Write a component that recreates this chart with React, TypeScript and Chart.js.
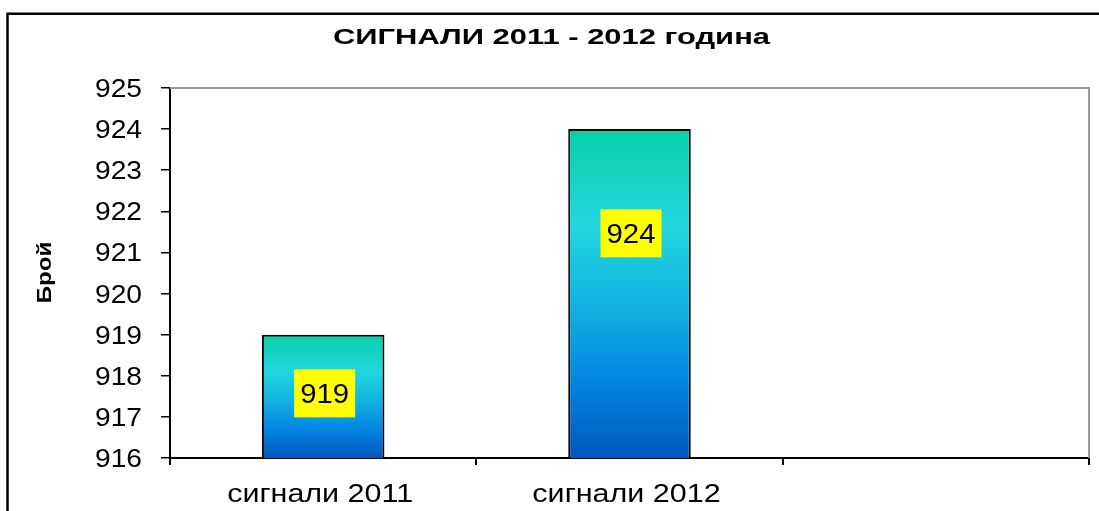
import React, { useEffect, useRef } from 'react';
import { Chart, registerables } from 'chart.js';

Chart.register(...registerables);

// ---- data ----
const categories: string[] = ['сигнали 2011', 'сигнали 2012', ''];
const values: (number | null)[] = [919, 924, null];
const yMin = 916;
const yMax = 925;
const yStep = 1;
const chartTitle = 'СИГНАЛИ 2011 - 2012 година';
const yAxisTitle = 'Брой';

// label vertical anchor inside each bar (fraction from top of bar to its base)
const LABEL_ANCHOR = [0.476, 0.317];

const FONT = '"Liberation Sans", Arial, sans-serif';

function drawStretched(
  ctx: CanvasRenderingContext2D,
  text: string,
  x: number,
  y: number,
  font: string,
  sx: number,
  align: CanvasTextAlign,
  color = '#000'
) {
  ctx.save();
  ctx.font = font;
  ctx.translate(x, y);
  ctx.scale(sx, 1);
  ctx.textAlign = align;
  ctx.textBaseline = 'alphabetic';
  ctx.fillStyle = color;
  ctx.fillText(text, 0, 0);
  ctx.restore();
}

function widthOf(ctx: CanvasRenderingContext2D, text: string, font: string) {
  ctx.save();
  ctx.font = font;
  const w = ctx.measureText(text).width;
  ctx.restore();
  return w;
}

const decorPlugin = {
  id: 'decor',
  afterDraw(chart: any) {
    const ctx: CanvasRenderingContext2D = chart.ctx;
    const area = chart.chartArea;
    const xs = chart.scales.x;
    const ys = chart.scales.y;

    // outer frame (top and left)
    ctx.save();
    ctx.strokeStyle = '#000';
    ctx.lineWidth = 2.5;
    ctx.beginPath();
    ctx.moveTo(7.5, 520);
    ctx.lineTo(7.5, 13.8);
    ctx.lineTo(1100, 13.8);
    ctx.stroke();

    // plot area border (top & right) in gray
    ctx.strokeStyle = '#999';
    ctx.lineWidth = 2;
    ctx.beginPath();
    ctx.moveTo(area.left, area.top);
    ctx.lineTo(area.right, area.top);
    ctx.lineTo(area.right, area.bottom);
    ctx.stroke();
    ctx.restore();

    // data labels
    const dFont = `27px ${FONT}`;
    const dSx = 49 / widthOf(ctx, '919', dFont);
    values.forEach((v, i) => {
      if (v == null) return;
      const top = ys.getPixelForValue(v);
      const base = ys.getPixelForValue(yMin);
      const cy = top + (base - top) * (LABEL_ANCHOR[i] ?? 0.5);
      const cx = xs.getPixelForValue(i) + 1.5;
      ctx.save();
      ctx.fillStyle = '#ffff00';
      ctx.fillRect(cx - 30.5, cy - 24, 61, 48);
      ctx.restore();
      drawStretched(ctx, String(v), cx, cy + 9.7, dFont, dSx, 'center');
    });

    // title
    const tFont = `bold 22px ${FONT}`;
    const tw = widthOf(ctx, chartTitle, tFont);
    drawStretched(ctx, chartTitle, 551.5, 43.5, tFont, 437 / tw, 'center');

    // y axis title (rotated)
    const yFont = `bold 20px ${FONT}`;
    const yw = widthOf(ctx, yAxisTitle, yFont);
    ctx.save();
    ctx.translate(50.5, 272.5);
    ctx.rotate(-Math.PI / 2);
    ctx.scale(61.6 / yw, 1);
    ctx.font = yFont;
    ctx.textAlign = 'center';
    ctx.textBaseline = 'alphabetic';
    ctx.fillStyle = '#000';
    ctx.fillText(yAxisTitle, 0, 0);
    ctx.restore();

    // y tick labels
    const tkFont = `25px ${FONT}`;
    const tkSx = 47 / widthOf(ctx, '916', tkFont);
    ys.ticks.forEach((t: any) => {
      const py = ys.getPixelForValue(t.value);
      drawStretched(ctx, String(t.value), 142, py + 9, tkFont, tkSx, 'right');
    });

    // x labels
    const xFont = `26px ${FONT}`;
    const xSx = 186 / widthOf(ctx, categories[0], xFont);
    categories.forEach((c, i) => {
      if (!c) return;
      const px = xs.getPixelForValue(i);
      drawStretched(ctx, c, px - 3, 502, xFont, xSx, 'center');
    });
  },
};

export default function App() {
  const ref = useRef<HTMLCanvasElement | null>(null);

  useEffect(() => {
    if (!ref.current) return;
    const chart = new Chart(ref.current, {
      type: 'bar',
      data: {
        labels: categories,
        datasets: [
          {
            data: values as any,
            backgroundColor: (c: any) => {
              const ch = c.chart;
              if (!ch.chartArea || c.type !== 'data' || c.raw == null) return '#10b0e0';
              const top = ch.scales.y.getPixelForValue(c.raw);
              const bottom = ch.scales.y.getPixelForValue(yMin);
              const g = ch.ctx.createLinearGradient(0, top, 0, bottom);
              g.addColorStop(0, '#08d2a8');
              g.addColorStop(0.3, '#22d6e0');
              g.addColorStop(0.55, '#10b0e0');
              g.addColorStop(0.78, '#0282e2');
              g.addColorStop(1, '#0058ba');
              return g;
            },
            borderColor: '#000',
            borderWidth: 2,
            borderSkipped: 'bottom',
            barPercentage: 0.4,
            categoryPercentage: 1,
          },
        ],
      },
      options: {
        responsive: false,
        animation: false,
        devicePixelRatio: 1,
        layout: { padding: { left: 0, top: 88, right: 10, bottom: 0 } },
        plugins: {
          legend: { display: false },
          title: { display: false },
          tooltip: { enabled: false },
        },
        scales: {
          x: {
            offset: true,
            grid: {
              offset: true,
              drawOnChartArea: false,
              drawTicks: true,
              tickLength: 7,
              color: '#000',
              lineWidth: 2,
            },
            border: { display: true, color: '#000', width: 2 },
            ticks: { display: false },
            afterFit: (s: any) => {
              s.height = 53;
            },
          },
          y: {
            min: yMin,
            max: yMax,
            ticks: { display: false, stepSize: yStep },
            grid: {
              drawOnChartArea: false,
              drawTicks: true,
              tickLength: 9,
              color: '#000',
              lineWidth: 1.5,
            },
            border: { display: true, color: '#000', width: 2 },
            afterFit: (s: any) => {
              s.width = 170;
            },
          },
        },
      },
      plugins: [decorPlugin],
    });
    return () => chart.destroy();
  }, []);

  return (
    <div style={{ position: 'absolute', left: 0, top: 0, width: 1099, height: 511, background: '#fff' }}>
      <canvas ref={ref} width={1099} height={511} style={{ display: 'block', width: 1099, height: 511 }} />
    </div>
  );
}
